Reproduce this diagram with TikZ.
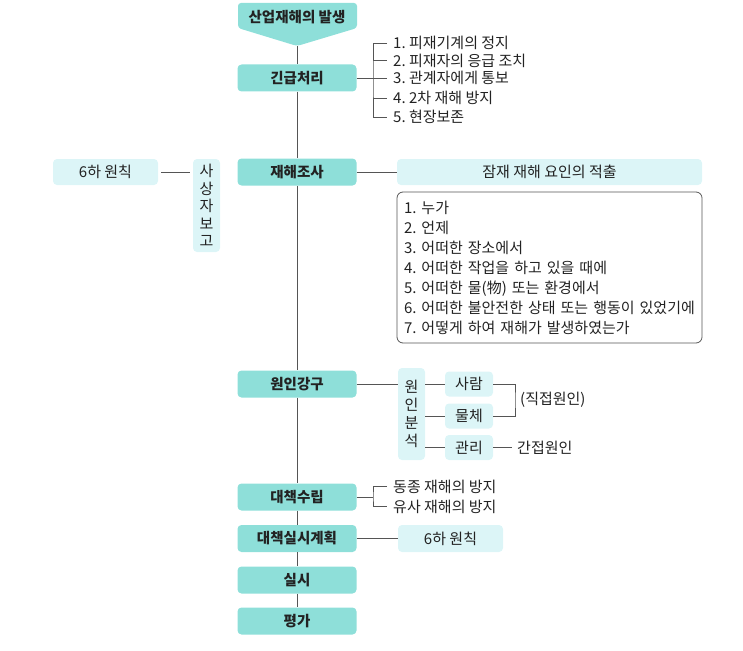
\documentclass[tikz,border=0pt]{standalone}
\usepackage{fontspec}
\setmainfont{Noto Sans CJK KR}
\frenchspacing
\definecolor{tealbox}{HTML}{8EDFD9}
\definecolor{palecyan}{HTML}{DCF5F7}
\definecolor{linegray}{HTML}{555555}
\definecolor{ink}{HTML}{222222}
\begin{document}
\begin{tikzpicture}[x=1pt,y=-1pt,
  mainbox/.style={fill=tealbox, rounded corners=4pt, minimum width=119pt, minimum height=27pt, inner sep=0pt, text=ink, font=\fontsize{14.5}{17}\selectfont\bfseries},
  palebox/.style={fill=palecyan, rounded corners=4pt, inner sep=0pt, text=ink, font=\fontsize{15}{18}\selectfont},
  listtext/.style={anchor=west, inner xsep=6pt, inner ysep=0pt, text=ink, font=\fontsize{15}{18}\selectfont},
  ln/.style={draw=linegray, line width=0.8pt},
  gapped/.style={shorten <=3pt, shorten >=3pt}]
\useasboundingbox (0,0) rectangle (743,650);

% main column
\path[fill=tealbox, rounded corners=3pt] (238,3) -- (357,3) -- (357,28) -- (297,46) -- (238,28) -- cycle;
\node[inner sep=0pt, text=ink, font=\fontsize{14.5}{17}\selectfont\bfseries] (s0) at (297,17) {산업재해의 발생};
\coordinate (tip) at (297,46);
\node[mainbox] (s1) at (297,78) {긴급처리};
\node[mainbox] (s2) at (297,172) {재해조사};
\node[mainbox] (s3) at (297,384) {원인강구};
\node[mainbox] (s4) at (297,497) {대책수립};
\node[mainbox] (s5) at (297,538.5) {대책실시계획};
\node[mainbox] (s6) at (297,580) {실시};
\node[mainbox] (s7) at (297,621) {평가};
\path[ln] (tip) -- (s1);
\path[ln] (s1) -- (s2);
\path[ln] (s2) -- (s3);
\path[ln] (s3) -- (s4);
\path[ln] (s4) -- (s5);
\path[ln] (s5) -- (s6);
\path[ln] (s6) -- (s7);

% emergency steps
\node[listtext] (e1) at (387,43) {1. 피재기계의 정지};
\node[listtext] (e2) at (387,60.5) {2. 피재자의 응급 조치};
\node[listtext] (e3) at (387,78) {3. 관계자에게 통보};
\node[listtext] (e4) at (387,98) {4. 2차 재해 방지};
\node[listtext] (e5) at (387,117) {5. 현장보존};
\coordinate (b1) at (373,78);
\path[ln] (s1) -- (b1);
\path[ln] (e1.west) -| (b1) |- (e5.west);
\path[ln] (b1 |- e2.west) -- (e2.west);
\path[ln] (b1) -- (e3.west);
\path[ln] (b1 |- e4.west) -- (e4.west);

% report
\node[palebox, minimum width=105pt, minimum height=26pt] (w1) at (105.5,172) {6하 원칙};
\node[palebox, minimum width=27pt, minimum height=93pt, align=center, font=\fontsize{15}{17.5}\selectfont] (w2) at (206.5,205.5) {사\\상\\자\\보\\고};
\path[ln,gapped] (w1) -- (w1 -| w2.west);

% investigation
\node[palebox, minimum width=305pt, minimum height=26pt] (r1) at (549.5,172) {잠재 재해 요인의 적출};
\path[ln] (s2) -- (r1);
\node[draw=linegray, rounded corners=6pt, line width=0.8pt, text width=291pt, minimum height=151pt, align=left, inner xsep=7pt, text=ink, font=\fontsize{15}{20}\selectfont] (r2) at (549.5,267.5) {1. 누가\\2. 언제\\3. 어떠한 장소에서\\4. 어떠한 작업을 하고 있을 때에\\5. 어떠한 물(物) 또는 환경에서\\6. 어떠한 불안전한 상태 또는 행동이 있었기에\\7. 어떻게 하여 재해가 발생하였는가};

% cause analysis
\node[palebox, minimum width=27pt, minimum height=92pt, align=center, font=\fontsize{15}{18}\selectfont] (c0) at (411.5,414) {원\\인\\분\\석};
\path[ln] (s3) -- (s3 -| c0.west);
\node[palebox, minimum width=48pt, minimum height=25pt] (c1) at (469,384) {사람};
\node[palebox, minimum width=48pt, minimum height=25pt] (c2) at (469,416) {물체};
\node[palebox, minimum width=48pt, minimum height=25pt] (c3) at (469,447.5) {관리};
\path[ln] (c1 -| c0.east) -- (c1);
\path[ln] (c2 -| c0.east) -- (c2);
\path[ln] (c3 -| c0.east) -- (c3);
\coordinate (jk) at (515,400);
\path[ln] (c1.east) -| (jk) |- (c2.east);
\node[listtext, inner xsep=4pt] (d1) at (516,400) {(직접원인)};
\node[listtext, inner xsep=5pt] (d2) at (512,447.5) {간접원인};
\path[ln] (c3) -- (d2);

% countermeasures
\coordinate (b2) at (373,497);
\node[listtext] (f1) at (387,486.5) {동종 재해의 방지};
\node[listtext] (f2) at (387,506.5) {유사 재해의 방지};
\path[ln] (s4) -- (b2);
\path[ln] (f1.west) -| (b2) |- (f2.west);

\node[palebox, minimum width=105pt, minimum height=27pt] (g1) at (450.5,538.5) {6하 원칙};
\path[ln] (s5) -- (g1);
\end{tikzpicture}
\end{document}
